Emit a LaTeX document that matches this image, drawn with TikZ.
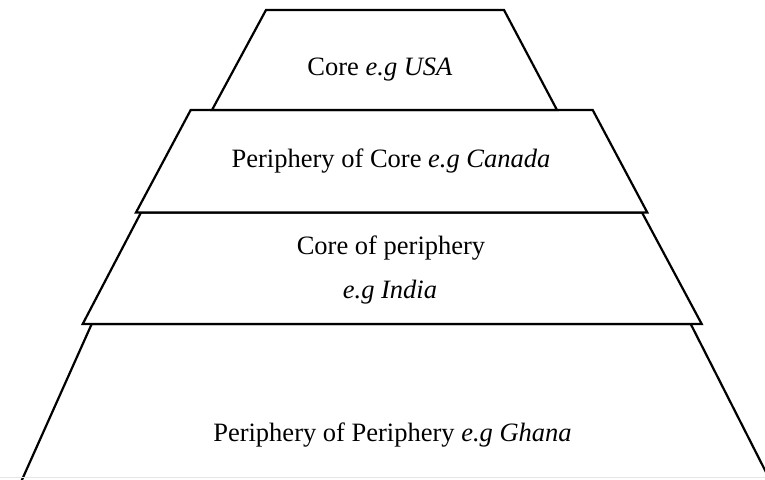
\documentclass[tikz,border=0pt]{standalone}
\usepackage{fontspec}
\setmainfont{Liberation Serif}
\begin{document}
\begin{tikzpicture}[x=1pt,y=-1pt,
  layer/.style={draw=black,line width=2.2pt,line join=miter,fill=white},
  lbl/.style={anchor=base,inner sep=0pt,font=\fontsize{26.5}{32}\selectfont}]
\clip (0,0) rectangle (765,479);
\fill[white] (0,0) rectangle (765,479);
% bottom layer (runs off the picture)
\draw[layer] (91.7,324) -- (690.7,324) -- (771,482) -- (21,482) -- cycle;
\draw[gray!20,line width=1pt] (0,477.5) -- (765,477.5);
% third layer
\draw[layer] (141,212.5) -- (642,212.5) -- (701.7,324) -- (82.7,324) -- cycle;
% second layer
\draw[layer] (190.7,110) -- (592.7,110) -- (647.3,212.5) -- (136,212.5) -- cycle;
% top layer
\draw[layer] (266,10) -- (504,10) -- (557,110) -- (212,110) -- cycle;
\node[lbl] (core) at (380,75) {Core \textit{e.g USA}};
\node[lbl] (pc) at (391,167) {Periphery of Core \textit{e.g Canada}};
\node[lbl] (cp) at (391,254) {Core of periphery};
\node[lbl] (cpex) at (390,298) {\textit{e.g India}};
\node[lbl] (pp) at (392.5,441) {Periphery of Periphery \textit{e.g Ghana}};
\end{tikzpicture}
\end{document}
